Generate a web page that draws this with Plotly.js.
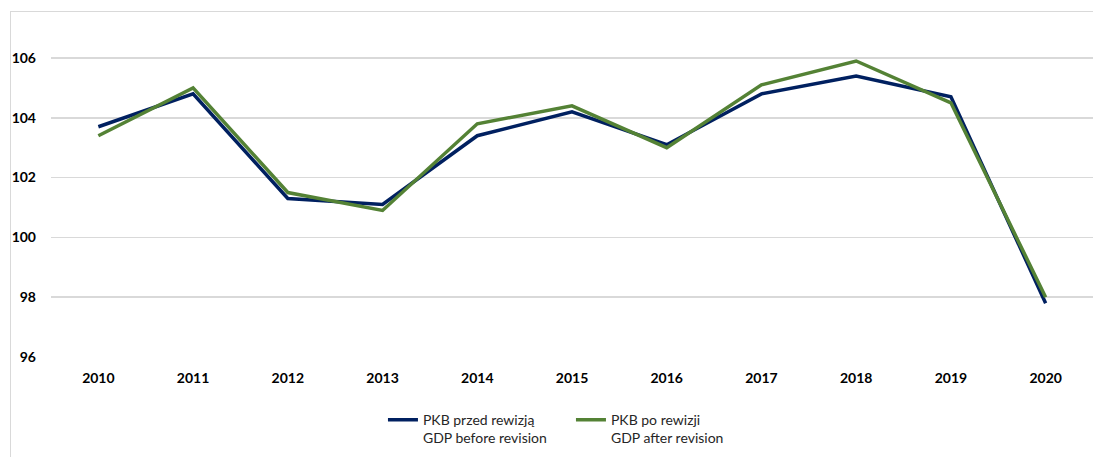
<!DOCTYPE html>
<html>
<head>
<meta charset="utf-8">
<script src="https://cdn.plot.ly/plotly-3.0.1.min.js"></script>
<style>
html,body{margin:0;padding:0;background:#fff;}
#wrap{position:relative;width:1093px;height:457px;overflow:hidden;}
#chart{position:absolute;left:0;top:0;width:1093px;height:457px;}
#frame{position:absolute;left:10px;top:11px;width:1100px;height:470px;border:1px solid #d9d9d9;pointer-events:none;}
</style>
</head>
<body>
<div id="wrap"><div id="chart"></div><div id="frame"></div></div>
<script>
const years = ['2010','2011','2012','2013','2014','2015','2016','2017','2018','2019','2020'];
const gdpBefore = [103.7, 104.8, 101.3, 101.1, 103.4, 104.2, 103.1, 104.8, 105.4, 104.7, 97.8];
const gdpAfter  = [103.4, 105.0, 101.5, 100.9, 103.8, 104.4, 103.0, 105.1, 105.9, 104.5, 98.0];
const seriesNames = ['PKB przed rewizją<br>GDP before revision', 'PKB po rewizji<br>GDP after revision'];
const yTicks = [96, 98, 100, 102, 104, 106];

const traces = [
  {x: years, y: gdpBefore, type: 'scatter', mode: 'lines', name: seriesNames[0],
   line: {color: '#002060', width: 3.5}},
  {x: years, y: gdpAfter, type: 'scatter', mode: 'lines', name: seriesNames[1],
   line: {color: '#548235', width: 3.5}}
];

const layout = {
  width: 1093, height: 457,
  margin: {l: 51, r: 0, t: 20, b: 100},
  paper_bgcolor: '#fff', plot_bgcolor: '#fff',
  font: {family: 'Lato, "Open Sans", sans-serif', color: '#000', size: 13},
  showlegend: true,
  legend: {orientation: 'h', x: 0.499, xanchor: 'center', y: -0.14, yanchor: 'top',
           font: {size: 14, color: '#262626'}, itemwidth: 30, tracegroupgap: 0,
           traceorder: 'normal', valign: 'top', entrywidth: 143, entrywidthmode: 'pixels'},
  xaxis: {type: 'category', range: [-0.5, 10.5], showgrid: false, zeroline: false,
          showline: false, ticks: '', ticklabelstandoff: 11,
          tickfont: {size: 14, family: 'Lato, sans-serif', weight: 'bold', color: '#000'}},
  yaxis: {range: [96, 107.27], tickvals: yTicks, ticktext: yTicks.map(String),
          showgrid: true, gridcolor: '#d9d9d9', gridwidth: 1.5, zeroline: false,
          showline: false, ticks: '', ticklabelstandoff: 14,
          tickfont: {size: 14, family: 'Lato, sans-serif', weight: 'bold', color: '#000'}}
};

Plotly.newPlot('chart', traces, layout, {displayModeBar: false, staticPlot: true});
</script>
</body>
</html>
